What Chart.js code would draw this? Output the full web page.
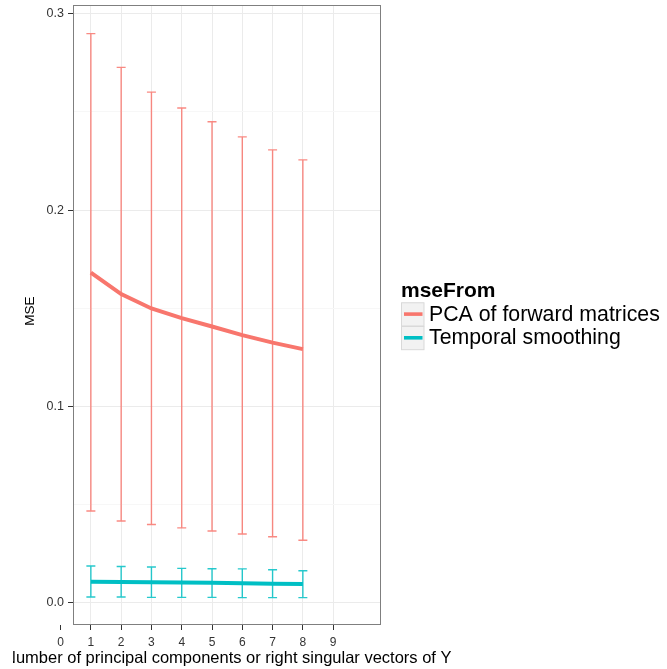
<!DOCTYPE html>
<html>
<head>
<meta charset="utf-8">
<script src="https://cdn.jsdelivr.net/npm/chart.js@4"></script>
<style>
  html, body { margin: 0; padding: 0; background: #fff; }
  canvas { display: block; }
</style>
</head>
<body>
<canvas id="mseChart" width="667" height="669"></canvas>
<script>
// values
const components = [1, 2, 3, 4, 5, 6, 7, 8];
const pcaMean  = [0.1682, 0.1572, 0.1499, 0.1450, 0.1407, 0.1363, 0.1325, 0.1292];
const pcaUpper = [0.2899, 0.2727, 0.2601, 0.2520, 0.2450, 0.2373, 0.2307, 0.2256];
const pcaLower = [0.0467, 0.0416, 0.0398, 0.0381, 0.0365, 0.0350, 0.0336, 0.0318];
const tsMean   = [0.0107, 0.0106, 0.0104, 0.0103, 0.0101, 0.0099, 0.0097, 0.0095];
const tsUpper  = [0.0187, 0.0184, 0.0182, 0.0175, 0.0173, 0.0172, 0.0168, 0.0163];
const tsLower  = [0.0029, 0.0029, 0.0027, 0.0027, 0.0027, 0.0026, 0.0026, 0.0026];
const xTicks = [0, 1, 2, 3, 4, 5, 6, 7, 8, 9];
const yTicks = [0, 0.05, 0.1, 0.15, 0.2, 0.25, 0.3];
const seriesNames = ["PCA of forward matrices", "Temporal smoothing"];
const legendTitle = "mseFrom";
const xTitle = "Number of principal components or right singular vectors of Y";
const yTitle = "MSE";

const RED = "#F8766D";
const TEAL = "#00BFC4";
const FONT = "'Liberation Sans', Arial, Helvetica, sans-serif";

function isMajor(v) {
  return Math.abs(v * 10 - Math.round(v * 10)) < 1e-6;
}

const errorBars = {
  id: "errorBars",
  beforeDatasetsDraw(chart) {
    const { ctx, scales: { x, y } } = chart;
    const sets = [
      { lo: pcaLower, hi: pcaUpper, color: "rgba(248,118,109,0.85)" },
      { lo: tsLower, hi: tsUpper, color: "rgba(0,191,196,0.85)" }
    ];
    ctx.save();
    ctx.lineWidth = 1.4;
    sets.forEach(s => {
      ctx.strokeStyle = s.color;
      components.forEach((c, i) => {
        const px = x.getPixelForValue(c);
        const top = y.getPixelForValue(s.hi[i]);
        const bot = y.getPixelForValue(s.lo[i]);
        ctx.beginPath();
        ctx.moveTo(px, top); ctx.lineTo(px, bot);
        ctx.moveTo(px - 4.5, top); ctx.lineTo(px + 4.5, top);
        ctx.moveTo(px - 4.5, bot); ctx.lineTo(px + 4.5, bot);
        ctx.stroke();
      });
    });
    ctx.restore();
  }
};

const panelAndText = {
  id: "panelAndText",
  afterDraw(chart) {
    const { ctx, chartArea: a } = chart;
    ctx.save();
    // panel border
    ctx.strokeStyle = "#7f7f7f";
    ctx.lineWidth = 1;
    ctx.strokeRect(a.left + 0.5, a.top + 0.5, a.right - a.left - 1, a.bottom - a.top - 1);

    // x title, its left edge is cut off in the original
    ctx.save();
    ctx.beginPath();
    ctx.rect(13, 640, 667, 29);
    ctx.clip();
    ctx.fillStyle = "#000";
    ctx.font = "16.5px " + FONT;
    ctx.textAlign = "left";
    ctx.textBaseline = "alphabetic";
    ctx.fillText(xTitle, 4, 662.5);
    ctx.restore();

    // y title
    ctx.save();
    ctx.translate(34, 311);
    ctx.rotate(-Math.PI / 2);
    ctx.fillStyle = "#000";
    ctx.font = "13.5px " + FONT;
    ctx.textAlign = "center";
    ctx.textBaseline = "alphabetic";
    ctx.fillText(yTitle, 0, 0);
    ctx.restore();

    // legend
    const lx = 401;
    ctx.fillStyle = "#000";
    ctx.font = "bold 21px " + FONT;
    ctx.textAlign = "left";
    ctx.fillText(legendTitle, lx, 296.7);
    const colors = [RED, TEAL];
    seriesNames.forEach((name, i) => {
      const top = 302.3 + i * 23.7;
      ctx.fillStyle = "#f2f2f2";
      ctx.fillRect(lx + 0.5, top, 22.5, 23.7);
      ctx.strokeStyle = "#d9d9d9";
      ctx.lineWidth = 1;
      ctx.strokeRect(lx + 0.5, top + 0.5, 22.5, 23.2);
      ctx.strokeStyle = colors[i];
      ctx.lineWidth = 3.6;
      ctx.beginPath();
      ctx.moveTo(lx + 3, top + 11.8);
      ctx.lineTo(lx + 21.5, top + 11.8);
      ctx.stroke();
      ctx.fillStyle = "#000";
      ctx.font = "21.3px " + FONT;
      ctx.fillText(name, 429, 320.7 + i * 23.5);
    });
    ctx.restore();
  }
};

const ctx = document.getElementById("mseChart").getContext("2d");
new Chart(ctx, {
  type: "line",
  data: {
    datasets: [
      {
        label: seriesNames[0],
        data: components.map((c, i) => ({ x: c, y: pcaMean[i] })),
        borderColor: RED,
        borderWidth: 4,
        pointRadius: 0,
        tension: 0
      },
      {
        label: seriesNames[1],
        data: components.map((c, i) => ({ x: c, y: tsMean[i] })),
        borderColor: TEAL,
        borderWidth: 4,
        pointRadius: 0,
        tension: 0
      }
    ]
  },
  options: {
    responsive: false,
    animation: false,
    devicePixelRatio: 1,
    layout: { padding: { left: 0, top: 5, right: 286, bottom: 0 } },
    plugins: { legend: { display: false }, tooltip: { enabled: false } },
    scales: {
      x: {
        type: "linear",
        min: 0.41,
        max: 10.58,
        afterBuildTicks: scale => { scale.ticks = xTicks.map(v => ({ value: v })); },
        afterFit: scale => {
          scale.height = 44;
          scale.paddingLeft = 0;
          scale.paddingRight = 0;
        },
        border: { display: false },
        grid: {
          color: c => (c.tick && c.tick.value === 0 ? "rgba(0,0,0,0)" : "#ebebeb"),
          lineWidth: 1,
          drawTicks: true,
          tickLength: 5,
          tickColor: "#333"
        },
        ticks: {
          autoSkip: false,
          maxRotation: 0,
          padding: 5,
          color: "#333",
          font: { family: FONT, size: 12 },
          callback: v => String(v)
        }
      },
      y: {
        min: -0.01137,
        max: 0.3045,
        afterBuildTicks: scale => { scale.ticks = yTicks.map(v => ({ value: v })); },
        afterFit: scale => {
          scale.width = 73;
          scale.paddingTop = 0;
          scale.paddingBottom = 0;
        },
        border: { display: false },
        grid: {
          color: c => (c.tick && isMajor(c.tick.value) ? "#ebebeb" : "#f7f7f7"),
          lineWidth: 1,
          drawTicks: true,
          tickLength: 5,
          tickColor: c => (c.tick && isMajor(c.tick.value) ? "#333" : "rgba(0,0,0,0)")
        },
        ticks: {
          autoSkip: false,
          padding: 4,
          color: "#333",
          font: { family: FONT, size: 12.5 },
          callback: v => (isMajor(v) ? v.toFixed(1) : "")
        }
      }
    }
  },
  plugins: [errorBars, panelAndText]
});
</script>
</body>
</html>
